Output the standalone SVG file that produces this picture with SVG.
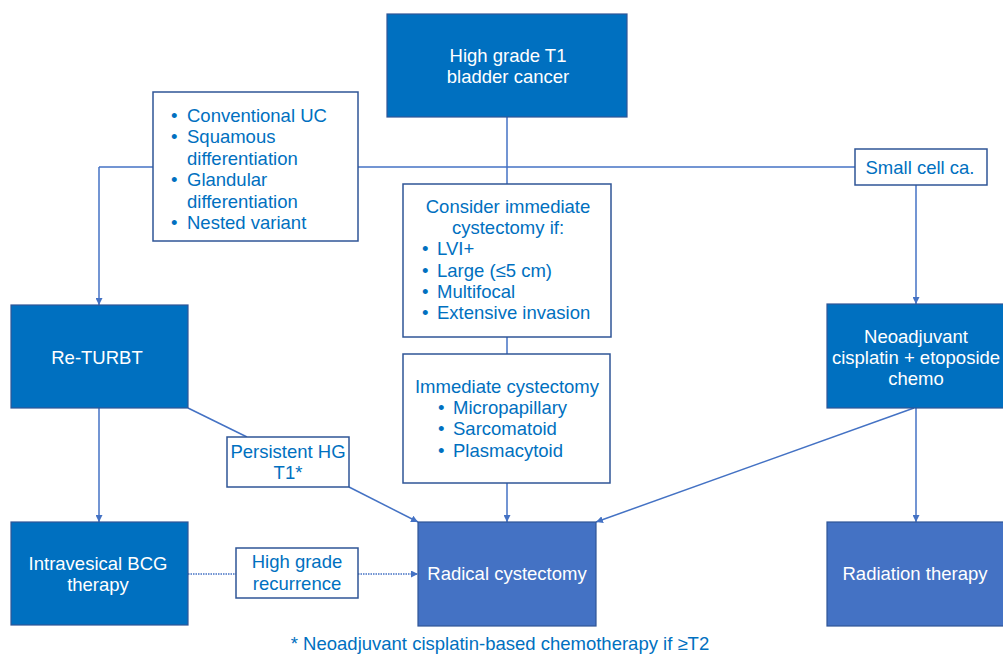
<svg xmlns="http://www.w3.org/2000/svg" width="1003" height="656" viewBox="0 0 1003 656">
<style>
text{font-family:"Liberation Sans",Arial,sans-serif;font-size:18.5px}
.w{fill:#ffffff}
.b{fill:#0070C0}
.c{text-anchor:middle}
.dark{fill:#0070C0;stroke:#2F5597;stroke-width:1.2}
.light{fill:#4472C4;stroke:#2F5597;stroke-width:1.2}
.box{fill:#ffffff;stroke:#2F5597;stroke-width:1.5}
.ln{fill:none;stroke:#4472C4;stroke-width:1.5}
.dot{fill:none;stroke:#4472C4;stroke-width:1.5;stroke-dasharray:1.5 1}
</style>
<defs>
<marker id="ah" viewBox="0 0 10 10" refX="10" refY="5" markerWidth="7" markerHeight="7" markerUnits="userSpaceOnUse" orient="auto">
<path d="M0,0 L10,5 L0,10 z" fill="#4472C4"/>
</marker>
</defs>
<rect width="1003" height="656" fill="#ffffff"/>
<g id="connectors">
<path class="ln" d="M99,167 L855,167"/>
<path class="ln" d="M99,167 L99,305" marker-end="url(#ah)"/>
<path class="ln" d="M507,117 L507,184"/>
<path class="ln" d="M507,337 L507,354"/>
<path class="ln" d="M507,483 L507,522" marker-end="url(#ah)"/>
<path class="ln" d="M916,185 L916,304" marker-end="url(#ah)"/>
<path class="ln" d="M99,408 L99,522" marker-end="url(#ah)"/>
<path class="ln" d="M188,408 L247,437"/>
<path class="ln" d="M349,487 L418,522" marker-end="url(#ah)"/>
<path class="dot" d="M188,574 L236,574"/>
<path class="dot" d="M358,574 L418,574" marker-end="url(#ah)"/>
<path class="ln" d="M914,408 L596,522" marker-end="url(#ah)"/>
<path class="ln" d="M916,408 L916,522" marker-end="url(#ah)"/>
</g>
<g id="top">
<rect class="dark" x="387" y="14" width="240" height="103"/>
<text class="w c" x="508" y="62">High grade T1</text>
<text class="w c" x="508" y="83">bladder cancer</text>
</g>
<g id="variants">
<rect class="box" x="153" y="92" width="205" height="149"/>
<g class="b">
<text x="171" y="122">•</text><text x="187" y="122">Conventional UC</text>
<text x="171" y="143">•</text><text x="187" y="143">Squamous</text>
<text x="187" y="165">differentiation</text>
<text x="171" y="186">•</text><text x="187" y="186">Glandular</text>
<text x="187" y="208">differentiation</text>
<text x="171" y="229">•</text><text x="187" y="229">Nested variant</text>
</g>
</g>
<g id="consider">
<rect class="box" x="403" y="184" width="208" height="153"/>
<g class="b">
<text class="c" x="508" y="213">Consider immediate</text>
<text class="c" x="508" y="234">cystectomy if:</text>
<text x="422" y="255">•</text><text x="437" y="255">LVI+</text>
<text x="422" y="277">•</text><text x="437" y="277">Large (≤5 cm)</text>
<text x="422" y="298">•</text><text x="437" y="298">Multifocal</text>
<text x="422" y="319">•</text><text x="437" y="319">Extensive invasion</text>
</g>
</g>
<g id="immediate">
<rect class="box" x="403" y="354" width="207" height="129"/>
<g class="b">
<text class="c" x="507" y="393">Immediate cystectomy</text>
<text x="438" y="414">•</text><text x="453" y="414">Micropapillary</text>
<text x="438" y="435">•</text><text x="453" y="435">Sarcomatoid</text>
<text x="438" y="457">•</text><text x="453" y="457">Plasmacytoid</text>
</g>
</g>
<g id="smallcell">
<rect class="box" x="855" y="149" width="132" height="36"/>
<text class="b c" x="920" y="174">Small cell ca.</text>
</g>
<g id="returbt">
<rect class="dark" x="11" y="305" width="177" height="103"/>
<text class="w c" x="97" y="364">Re-TURBT</text>
</g>
<g id="neoadjuvant">
<rect class="dark" x="827" y="304" width="180" height="104"/>
<text class="w c" x="916" y="343">Neoadjuvant</text>
<text class="w c" x="916" y="364">cisplatin + etoposide</text>
<text class="w c" x="916" y="385">chemo</text>
</g>
<g id="persistent">
<rect class="box" x="227" y="437" width="122" height="50"/>
<text class="b c" x="288" y="458">Persistent HG</text>
<text class="b c" x="288" y="479">T1*</text>
</g>
<g id="bcg">
<rect class="dark" x="11" y="522" width="177" height="103"/>
<text class="w c" x="98" y="570">Intravesical BCG</text>
<text class="w c" x="98" y="591">therapy</text>
</g>
<g id="recurrence">
<rect class="box" x="236" y="548" width="122" height="50"/>
<text class="b c" x="297" y="568">High grade</text>
<text class="b c" x="297" y="590">recurrence</text>
</g>
<g id="radical">
<rect class="light" x="418" y="522" width="178" height="104"/>
<text class="w c" x="507" y="580">Radical cystectomy</text>
</g>
<g id="radiation">
<rect class="light" x="827" y="522" width="180" height="104"/>
<text class="w c" x="915" y="580">Radiation therapy</text>
</g>
<g id="footnote">
<text class="b c" x="500" y="650">* Neoadjuvant cisplatin-based chemotherapy if ≥T2</text>
</g>
</svg>
